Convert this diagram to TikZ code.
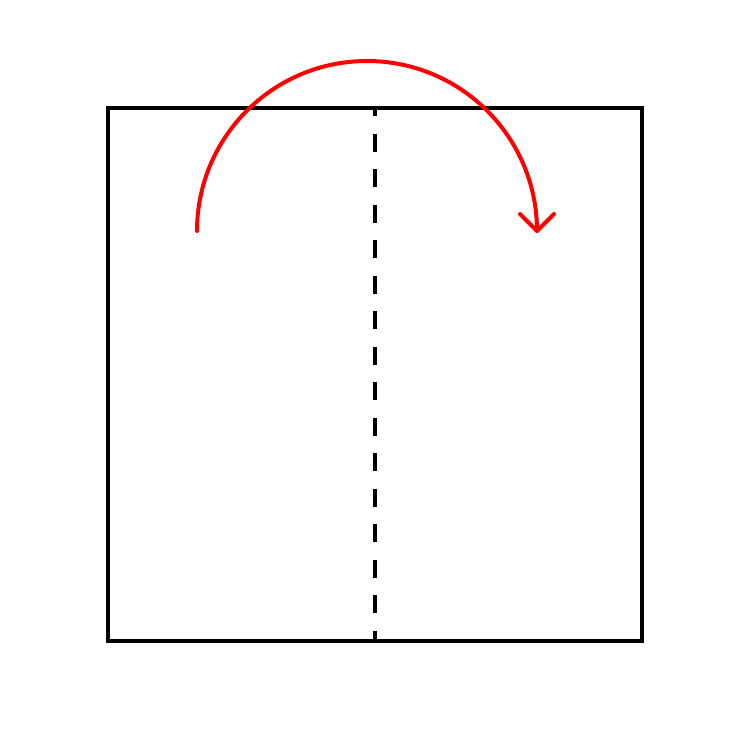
\documentclass[tikz,border=0pt]{standalone}
\begin{document}
\begin{tikzpicture}[x=1pt,y=-1pt,
  paper/.style={draw=black,line width=4pt},
  foldline/.style={draw=black,line width=3.5pt,dash pattern=on 18pt off 17.5pt,dash phase=10pt},
  foldarrow/.style={draw=red,line width=4pt,line cap=round,line join=round}]
\useasboundingbox (0,0) rectangle (750,750);
\fill[white] (0,0) rectangle (750,750);
\coordinate (tl) at (108,108);
\coordinate (br) at (642,641);
\coordinate (ft) at (375,108);
\coordinate (fb) at (375,641);
\coordinate (as) at (197,231);
\coordinate (ae) at (537,231);
\draw[foldline] (ft) -- (fb);
\draw[paper] (tl) rectangle (br);
\draw[foldarrow] (as) arc[start angle=180,end angle=360,radius=170];
\draw[foldarrow] ([shift={(-17,-17)}]ae) -- (ae) -- ([shift={(17,-17)}]ae);
\end{tikzpicture}
\end{document}
